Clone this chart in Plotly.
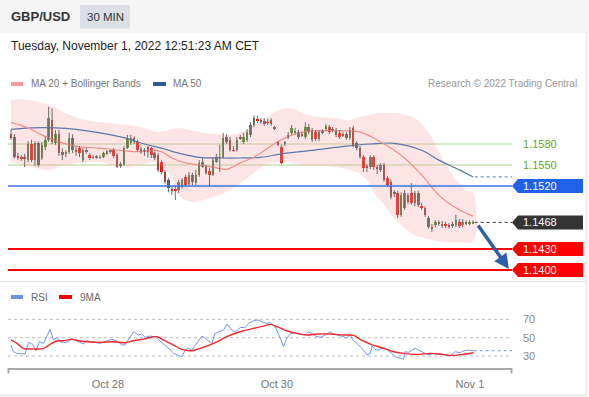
import plotly.graph_objects as go

# ---------------- data ----------------
open_ = [1.1594,1.1590,1.1563,1.1561,1.1561,1.1557,1.1580,1.1557,1.1581,1.1560,
         1.1576,1.1586,1.1614,1.1581,1.1594,1.1569,1.1566,1.1569,1.1589,1.1571,
         1.1574,1.1557,1.1571,1.1564,1.1561,1.1561,1.1561,1.1561,1.1566,1.1569,
         1.1571,1.1564,1.1549,1.1550,1.1574,1.1581,1.1589,1.1583,1.1569,1.1571,
         1.1576,1.1574,1.1567,1.1564,1.1554,1.1540,1.1529,1.1516,1.1516,1.1514,
         1.1519,1.1533,1.1523,1.1536,1.1524,1.1536,1.1547,1.1547,1.1541,1.1536,
         1.1554,1.1561,1.1561,1.1590,1.1586,1.1571,1.1571,1.1589,1.1583,1.1586,
         1.1593,1.1607,1.1614,1.1613,1.1613,1.1611,1.1614,1.1604,1.1583,1.1576,
         1.1581,1.1589,1.1596,1.1597,1.1597,1.1593,1.1590,1.1604,1.1600,1.1597,
         1.1587,1.1597,1.1601,1.1604,1.1600,1.1600,1.1596,1.1593,1.1594,1.1589,
         1.1603,1.1581,1.1574,1.1561,1.1547,1.1547,1.1561,1.1546,1.1543,1.1550,
         1.1531,1.1526,1.1510,1.1510,1.1479,1.1489,1.1507,1.1510,1.1496,1.1510,
         1.1491,1.1489,1.1474,1.1461,1.1464,1.1467,1.1466,1.1464,1.1464,1.1464,
         1.1464,1.1469,1.1464,1.1467,1.1467,1.14675]
close = [1.1589,1.1561,1.1561,1.1560,1.1560,1.1580,1.1557,1.1581,1.1550,1.1579,
         1.1586,1.1617,1.1583,1.1594,1.1567,1.1564,1.1567,1.1589,1.1571,1.1570,
         1.1567,1.1571,1.1570,1.1560,1.15605,1.1563,1.15605,1.1567,1.1570,1.1570,
         1.1563,1.1547,1.1551,1.1574,1.1589,1.1589,1.1583,1.1571,1.1573,1.1570,
         1.1569,1.1564,1.1560,1.1543,1.1540,1.1526,1.1517,1.1514,1.1514,1.1526,
         1.1529,1.1521,1.1536,1.1526,1.1536,1.1553,1.1554,1.1539,1.1536,1.1557,
         1.1561,1.15605,1.1589,1.1583,1.1571,1.15705,1.1586,1.15885,1.1590,1.1597,
         1.1607,1.1617,1.16135,1.16125,1.1609,1.16105,1.1609,1.1601,1.1579,1.1553,
         1.1583,1.1593,1.1603,1.15975,1.1590,1.15925,1.1604,1.1597,1.1586,1.1587,
         1.1597,1.15965,1.1606,1.1597,1.15995,1.1593,1.1590,1.15925,1.1589,1.1600,
         1.1579,1.1574,1.1561,1.1546,1.15465,1.1561,1.1547,1.15455,1.1550,1.1529,
         1.1521,1.1504,1.1509,1.1479,1.1507,1.1510,1.1497,1.1496,1.1510,1.1493,
         1.1490,1.1479,1.1461,1.1460,1.1469,1.14665,1.1464,1.14635,1.1461,1.14635,
         1.1471,1.1463,1.1469,1.14665,1.14675,1.1468]
high = [1.1600,1.1594,1.1567,1.1564,1.1566,1.1584,1.1586,1.1584,1.1584,1.1583,
        1.1591,1.1633,1.1631,1.1600,1.1600,1.1574,1.1571,1.1596,1.1594,1.1576,
        1.1577,1.1574,1.1574,1.1567,1.1564,1.1564,1.1564,1.1569,1.1571,1.1571,
        1.1574,1.1567,1.1554,1.1577,1.1593,1.1593,1.1591,1.1586,1.1576,1.1574,
        1.1577,1.1576,1.1569,1.1567,1.1557,1.1543,1.1531,1.1520,1.1521,1.1529,
        1.1531,1.1536,1.1540,1.1539,1.1543,1.1557,1.1560,1.1550,1.1546,1.1561,
        1.1566,1.1579,1.1596,1.1594,1.1590,1.1577,1.1590,1.1593,1.1596,1.1601,
        1.1611,1.1621,1.1620,1.1617,1.1617,1.1616,1.1617,1.1606,1.1584,1.1579,
        1.1584,1.1597,1.1607,1.1603,1.1600,1.1597,1.1611,1.1609,1.1603,1.1600,
        1.1600,1.1601,1.1609,1.1607,1.1604,1.1603,1.1599,1.1597,1.1597,1.1604,
        1.1606,1.1584,1.1577,1.1564,1.1551,1.1564,1.1564,1.1550,1.1553,1.1553,
        1.1534,1.1529,1.1514,1.1513,1.1511,1.1514,1.1510,1.1524,1.1513,1.1513,
        1.1496,1.1491,1.1477,1.1466,1.1471,1.1471,1.1470,1.1469,1.1467,1.1469,
        1.1479,1.1473,1.1473,1.1471,1.1471,1.1471]
low = [1.1586,1.1559,1.1557,1.1556,1.1547,1.1554,1.1554,1.1549,1.1547,1.1557,
       1.1571,1.1583,1.1580,1.1579,1.1563,1.1557,1.1561,1.1566,1.1567,1.1563,
       1.1561,1.1554,1.1566,1.1557,1.1559,1.1559,1.1559,1.1560,1.1564,1.1566,
       1.1560,1.1546,1.1546,1.1549,1.1573,1.1579,1.1580,1.1569,1.1566,1.1563,
       1.1561,1.1560,1.1557,1.1540,1.1537,1.1523,1.1511,1.1507,1.1500,1.1510,
       1.1516,1.1519,1.1520,1.1521,1.1521,1.1533,1.1546,1.1536,1.1519,1.1534,
       1.1553,1.1540,1.1559,1.1580,1.1569,1.1569,1.1569,1.1586,1.1580,1.1583,
       1.1590,1.1604,1.1610,1.1609,1.1606,1.1607,1.1606,1.1600,1.1577,1.1551,
       1.1577,1.1587,1.1593,1.1594,1.1587,1.1590,1.1587,1.1594,1.1583,1.1584,
       1.1584,1.1594,1.1599,1.1594,1.1597,1.1590,1.1587,1.1590,1.1586,1.1586,
       1.1576,1.1571,1.1559,1.1540,1.1540,1.1544,1.1543,1.1537,1.1540,1.1526,
       1.1519,1.1501,1.1504,1.1474,1.1476,1.1486,1.1494,1.1493,1.1491,1.1490,
       1.1486,1.1476,1.1459,1.1454,1.1461,1.1463,1.1460,1.1460,1.1459,1.1460,
       1.1461,1.1460,1.1461,1.1464,1.1464,1.1466]

ma50_x = [0, 6, 13, 19, 26, 33, 39, 44, 49, 55, 61, 67, 73, 79, 88, 98, 105, 112, 120, 125, 131, 135]
ma50 = [1.1601, 1.1603, 1.1603, 1.1601, 1.1596, 1.1589, 1.1580, 1.1574, 1.1567, 1.1561, 1.1560,
        1.1560, 1.1561, 1.1566, 1.1571, 1.1577, 1.1580, 1.1581, 1.1571, 1.1557, 1.1543, 1.1533]

ma20_x = [0, 5, 9, 14, 20, 26, 32, 38, 41, 44, 47, 51, 55, 59, 63, 67, 71, 75, 79, 85, 93, 102,
          108, 114, 120, 125, 131, 135]
ma20 = [1.1611, 1.1603, 1.1593, 1.1583, 1.1576, 1.1574, 1.1571, 1.1569, 1.1571, 1.1569, 1.1560,
        1.1553, 1.1550, 1.1547, 1.1544, 1.1553, 1.1561, 1.1574, 1.1586, 1.1597, 1.1599, 1.1597,
        1.1583, 1.1564, 1.1536, 1.1507, 1.1486, 1.1477]

bb_up_x = [0, 3, 11, 16, 22, 29, 38, 43, 46, 49, 55, 63, 67, 71, 75, 79, 82, 87, 94, 99, 101,
           104, 107, 113, 118, 122, 125, 129, 133, 135]
bb_up = [1.1643, 1.1644, 1.1636, 1.1624, 1.1614, 1.1610, 1.1604, 1.1597, 1.1600, 1.1603, 1.1597,
         1.1593, 1.1596, 1.1607, 1.1619, 1.1630, 1.1631, 1.1621, 1.1617, 1.1614, 1.1617, 1.1621,
         1.1624, 1.1624, 1.1617, 1.1597, 1.1569, 1.1536, 1.1514, 1.1510]
bb_lo_x = [0, 6, 11, 16, 26, 32, 38, 42, 46, 49, 53, 57, 61, 65, 69, 73, 77, 82, 85, 90, 96,
           101, 104, 106, 109, 112, 115, 118, 123, 127, 131, 135]
bb_lo = [1.1554, 1.1547, 1.1543, 1.1550, 1.1554, 1.1547, 1.1550, 1.1554, 1.1539, 1.1506, 1.1497,
         1.1501, 1.1507, 1.1517, 1.1531, 1.1546, 1.1554, 1.1554, 1.1549, 1.1549, 1.1546, 1.1540,
         1.1529, 1.1511, 1.1493, 1.1474, 1.1460, 1.1450, 1.1443, 1.1440, 1.1440, 1.1441]

rsi_x = [0.0, 0.7, 1.7, 4.1, 5.1, 6.0, 6.5, 7.3, 8.3, 9.5, 10.4, 11.4, 12.4, 13.4, 14.3, 15.8,
         16.8, 17.7, 18.7, 19.7, 21.2, 22.1, 24.1, 26.0, 28.0, 29.4, 30.9, 32.4, 33.3, 34.3,
         35.8, 37.2, 38.2, 39.2, 40.6, 42.1, 43.6, 45.5, 47.5, 49.4, 49.9, 50.9, 51.9, 52.8,
         54.3, 55.8, 56.7, 57.7, 58.7, 59.6, 61.1, 62.1, 63.1, 64.0, 65.0, 66.0, 67.0, 68.4,
         69.4, 70.9, 72.3, 73.8, 74.8, 75.7, 77.2, 78.7, 79.6, 80.6, 81.6, 82.6, 83.5, 84.5,
         86.0, 86.9, 87.9, 88.9, 90.4, 91.8, 93.3, 94.2, 95.7, 97.2, 98.1, 99.1, 100.1, 101.6,
         103.0, 104.0, 105.0, 105.5, 106.4, 107.4, 108.9, 110.3, 111.3, 112.3, 113.7, 114.7,
         115.2, 116.2, 117.2, 118.1, 119.1, 120.6, 122.0, 123.5, 125.4, 126.9, 128.4, 129.8,
         131.3, 132.3, 133.7, 135.2]
rsi = [42.0, 34.7, 32.9, 32.2, 44.5, 43.8, 42.0, 35.8, 45.6, 43.8, 51.1, 59.1, 47.5, 50.4, 45.6,
       44.9, 45.6, 49.3, 47.5, 45.6, 43.1, 46.7, 45.6, 43.8, 46.4, 48.2, 46.7, 42.0, 42.0, 47.5,
       56.5, 52.9, 54.0, 50.4, 51.8, 51.1, 46.7, 40.2, 32.9, 30.0, 29.3, 36.5, 38.4, 36.5, 43.8,
       51.8, 49.3, 46.7, 43.8, 54.7, 56.5, 58.4, 64.9, 61.3, 56.5, 57.3, 61.3, 60.9, 65.6, 68.5,
       69.3, 66.4, 65.6, 66.4, 62.0, 49.3, 40.2, 49.3, 54.0, 55.5, 54.7, 54.0, 52.9, 56.5, 54.7,
       51.8, 50.4, 52.9, 56.5, 54.0, 52.9, 51.1, 49.3, 52.9, 46.7, 42.0, 36.5, 31.1, 32.9, 40.9,
       37.3, 36.5, 39.5, 35.8, 32.9, 29.3, 27.5, 26.4, 34.7, 34.0, 36.5, 38.4, 36.5, 33.6, 31.1,
       32.9, 32.2, 31.1, 30.0, 34.7, 33.6, 35.8, 36.5, 35.8]

ma9_x = [0.0, 1.7, 3.6, 5.6, 7.5, 9.5, 11.4, 13.4, 15.3, 17.7, 20.2, 22.1, 26.0, 29.9, 33.3,
         35.8, 38.7, 42.6, 44.5, 47.5, 49.9, 52.8, 55.3, 59.2, 63.1, 65.0, 67.9, 70.9, 73.8,
         75.7, 77.7, 80.6, 83.5, 86.5, 89.4, 93.3, 97.2, 100.1, 102.0, 105.0, 108.9, 111.8,
         114.7, 118.6, 122.5, 125.4, 128.4, 131.3, 135.2]
ma9 = [47.5, 43.8, 38.4, 37.6, 37.6, 38.4, 42.7, 46.4, 46.7, 48.2, 46.4, 45.6, 44.9, 45.6, 44.5,
       46.7, 48.5, 51.1, 47.5, 42.0, 37.3, 35.8, 38.4, 43.8, 51.1, 54.0, 57.6, 60.2, 62.7, 64.5,
       62.0, 57.6, 54.7, 52.9, 54.0, 54.0, 52.9, 52.5, 48.2, 43.1, 38.4, 34.7, 32.9, 31.8, 32.9,
       32.2, 30.7, 31.5, 33.6]

support_resist = [1.1580, 1.1550]
pivot = 1.1520
last_price = 1.1468
targets = [1.1430, 1.1400]
rsi_levels = [70, 50, 30]

tick_pos = [28.3, 77.7, 134.1]
tick_text = ["Oct 28", "Oct 30", "Nov 1"]

# ---------------- layout helpers (pixel -> paper) ----------------
W, H = 589, 397
L, R, T, B = 8, 77, 95, 29
PW, PH = W - L - R, H - T - B


def px(x):
    return (x - L) / PW


def py(y):
    return (H - B - y) / PH


FONT = "Liberation Sans, Arial, sans-serif"
n = len(close)
idx = list(range(n))
XR = [-0.88, 146.4]

fig = go.Figure()

# Bollinger band fill
fig.add_trace(go.Scatter(
    x=bb_up_x + bb_lo_x[::-1], y=bb_up + bb_lo[::-1], fill="toself",
    fillcolor="rgba(250,175,175,0.32)", line=dict(width=0, shape="spline"),
    mode="lines", hoverinfo="skip", xaxis="x", yaxis="y"))

# MA lines
fig.add_trace(go.Scatter(x=ma50_x, y=ma50, mode="lines",
                         line=dict(color="#5a77ad", width=1.2, shape="spline"),
                         xaxis="x", yaxis="y"))
fig.add_trace(go.Scatter(x=ma20_x, y=ma20, mode="lines",
                         line=dict(color="#f28d88", width=1.2, shape="spline"),
                         xaxis="x", yaxis="y"))

# wicks
wx, wy = [], []
for i in idx:
    wx += [i, i, None]
    wy += [low[i], high[i], None]
fig.add_trace(go.Scatter(x=wx, y=wy, mode="lines", line=dict(color="#6b6b6b", width=1),
                         xaxis="x", yaxis="y"))

# bodies
heights, bases, cols = [], [], []
for o, c in zip(open_, close):
    h = max(abs(c - o), 0.00013)
    mid = (o + c) / 2
    heights.append(h)
    bases.append(mid - h / 2)
    cols.append("#3a8a26" if c > o else "#e3140e")
fig.add_trace(go.Bar(x=idx, y=heights, base=bases, width=0.74,
                     marker=dict(color=cols, line=dict(width=0)),
                     xaxis="x", yaxis="y"))

# RSI
fig.add_trace(go.Scatter(x=rsi_x, y=rsi, mode="lines", line=dict(color="#7896ea", width=1),
                         xaxis="x2", yaxis="y2"))
fig.add_trace(go.Scatter(x=ma9_x, y=ma9, mode="lines",
                         line=dict(color="#f2282b", width=1.4, shape="spline"),
                         xaxis="x2", yaxis="y2"))

shapes = []
ann = []

# header
shapes.append(dict(type="rect", xref="paper", yref="paper", x0=px(0), x1=px(W), y0=py(33),
                   y1=py(0), fillcolor="#f5f5f5", line=dict(width=0), layer="below"))
shapes.append(dict(type="rect", xref="paper", yref="paper", x0=px(80), x1=px(130), y0=py(28.5),
                   y1=py(5), fillcolor="#dcdfe6", line=dict(width=0)))
ann.append(dict(text="<b>GBP/USD</b>", x=px(9), y=py(17), xref="paper", yref="paper",
                xanchor="left", yanchor="middle", showarrow=False,
                font=dict(size=13, color="#333", family=FONT)))
ann.append(dict(text="30 MIN", x=px(105), y=py(17), xref="paper", yref="paper",
                xanchor="center", yanchor="middle", showarrow=False,
                font=dict(size=11.5, color="#333", family=FONT)))
ann.append(dict(text="Tuesday, November 1, 2022 12:51:23 AM CET", x=px(9), y=py(46),
                xref="paper", yref="paper", xanchor="left", yanchor="middle", showarrow=False,
                font=dict(size=12, color="#222", family=FONT)))

# frame lines
shapes.append(dict(type="line", xref="paper", yref="paper", x0=px(0), x1=px(586.5),
                   y0=py(281.5), y1=py(281.5), line=dict(color="#e8e8e8", width=1.5)))
shapes.append(dict(type="line", xref="paper", yref="paper", x0=px(586.5), x1=px(586.5),
                   y0=py(33), y1=py(396), line=dict(color="#e8e8e8", width=1.5)))
shapes.append(dict(type="line", xref="paper", yref="paper", x0=px(0), x1=px(586.5),
                   y0=py(395.5), y1=py(395.5), line=dict(color="#e8e8e8", width=1.5)))

# price legend
shapes.append(dict(type="rect", xref="paper", yref="paper", x0=px(11), x1=px(23), y0=py(86),
                   y1=py(82), fillcolor="#f79a9a", line=dict(width=0)))
ann.append(dict(text="MA 20 + Bollinger Bands", x=px(29), y=py(84), xref="paper", yref="paper",
                xanchor="left", yanchor="middle", showarrow=False,
                font=dict(size=10, color="#777", family=FONT)))
shapes.append(dict(type="rect", xref="paper", yref="paper", x0=px(153), x1=px(166), y0=py(86),
                   y1=py(82), fillcolor="#2f5a98", line=dict(width=0)))
ann.append(dict(text="MA 50", x=px(171), y=py(84), xref="paper", yref="paper",
                xanchor="left", yanchor="middle", showarrow=False,
                font=dict(size=10, color="#777", family=FONT)))
ann.append(dict(text="Research © 2022 Trading Central", x=px(579), y=py(84), xref="paper",
                yref="paper", xanchor="right", yanchor="middle", showarrow=False,
                font=dict(size=10, color="#999", family=FONT)))

# level lines
for lv in support_resist:
    shapes.append(dict(type="line", xref="paper", yref="y", x0=0, x1=1, y0=lv, y1=lv,
                       line=dict(color="#c8e2b4", width=1.5), layer="below"))
    ann.append(dict(text=f"{lv:.4f}", x=px(521), y=lv, xref="paper", yref="y",
                    xanchor="left", yanchor="middle", showarrow=False,
                    font=dict(size=11, color="#5fa81a", family=FONT)))
shapes.append(dict(type="line", xref="paper", yref="y", x0=0, x1=1, y0=pivot, y1=pivot,
                   line=dict(color="#3f76e6", width=1.5)))
for lv in targets:
    shapes.append(dict(type="line", xref="paper", yref="y", x0=0, x1=1, y0=lv, y1=lv,
                       line=dict(color="#ff0000", width=2)))
shapes.append(dict(type="line", xref="x", yref="y", x0=n - 0.5, x1=XR[1], y0=last_price,
                   y1=last_price, line=dict(color="#333", width=1, dash="dot")))
shapes.append(dict(type="line", xref="x", yref="y", x0=ma50_x[-1] + 0.5, x1=XR[1],
                   y0=ma50[-1], y1=ma50[-1], line=dict(color="#5a77ad", width=1, dash="dot")))

# label boxes
hh = 0.00100
tip, body, right = px(512), px(518), px(583)
for lv, col in [(pivot, "#1f62e8"), (last_price, "#333333"),
                (targets[0], "#ff0000"), (targets[1], "#ff0000")]:
    path = (f"M {tip} {lv} L {body} {lv + hh} L {right} {lv + hh} "
            f"L {right} {lv - hh} L {body} {lv - hh} Z")
    shapes.append(dict(type="path", xref="paper", yref="y", path=path, fillcolor=col,
                       line=dict(width=0)))
    ann.append(dict(text=f"{lv:.4f}", x=px(521), y=lv, xref="paper", yref="y",
                    xanchor="left", yanchor="middle", showarrow=False,
                    font=dict(size=11, color="white", family=FONT)))

# arrow
ann.append(dict(text="", x=145.5, y=1.14014, ax=136.2, ay=1.14657, xref="x", yref="y",
                axref="x", ayref="y", showarrow=True, arrowhead=2, arrowsize=0.85,
                arrowwidth=3.5, arrowcolor="#2e5ea6", standoff=0))

# RSI panel
for lv in rsi_levels:
    shapes.append(dict(type="line", xref="paper", yref="y2", x0=0, x1=1, y0=lv, y1=lv,
                       line=dict(color="#bdbdbd", width=1, dash="dot"), layer="below"))
    ann.append(dict(text=str(lv), x=px(521), y=lv, xref="paper", yref="y2",
                    xanchor="left", yanchor="middle", showarrow=False,
                    font=dict(size=11, color="#888", family=FONT)))
shapes.append(dict(type="line", xref="x2", yref="y2", x0=rsi_x[-1], x1=XR[1], y0=rsi[-1],
                   y1=rsi[-1], line=dict(color="#7896ea", width=1, dash="dot")))
shapes.append(dict(type="rect", xref="paper", yref="paper", x0=px(11), x1=px(23), y0=py(299),
                   y1=py(295), fillcolor="#6d8fe8", line=dict(width=0)))
ann.append(dict(text="RSI", x=px(29), y=py(297), xref="paper", yref="paper",
                xanchor="left", yanchor="middle", showarrow=False,
                font=dict(size=10, color="#666", family=FONT)))
shapes.append(dict(type="rect", xref="paper", yref="paper", x0=px(59), x1=px(72), y0=py(299),
                   y1=py(295), fillcolor="#ff0000", line=dict(width=0)))
ann.append(dict(text="9MA", x=px(78), y=py(297), xref="paper", yref="paper",
                xanchor="left", yanchor="middle", showarrow=False,
                font=dict(size=10, color="#666", family=FONT)))

# bottom axis end ticks
for xx in (8.5, 511.5):
    shapes.append(dict(type="line", xref="paper", yref="paper", x0=px(xx), x1=px(xx),
                       y0=py(368), y1=py(373.5), line=dict(color="#aaaaaa", width=2)))

fig.update_layout(
    width=W, height=H, autosize=False,
    margin=dict(l=L, r=R, t=T, b=B, pad=0),
    paper_bgcolor="white", plot_bgcolor="white",
    showlegend=False, bargap=0,
    shapes=shapes, annotations=ann,
    font=dict(family=FONT),
    xaxis=dict(domain=[0, 1], range=XR, anchor="y", visible=False, fixedrange=True,
               automargin=False),
    yaxis=dict(domain=[py(280), 1], range=[1.1580 - (280 - 144) / 7000, 1.1580 + (144 - 95) / 7000],
               anchor="x", visible=False, automargin=False),
    xaxis2=dict(domain=[0, 1], range=XR, anchor="y2", showgrid=False, zeroline=False,
                showline=True, linecolor="#aaaaaa", linewidth=2, automargin=False,
                tickvals=tick_pos, ticktext=tick_text, ticks="outside", ticklen=5,
                tickcolor="rgba(0,0,0,0)", tickfont=dict(size=11, color="#777", family=FONT)),
    yaxis2=dict(domain=[0, py(305)], range=[50 - (368 - 337.7) / 0.9167, 50 + (337.7 - 305) / 0.9167],
                anchor="x2", visible=False, automargin=False),
)

fig.write_html("out.html", config={"displayModeBar": False},
               post_script="document.body.style.margin='0px';document.body.style.overflow='hidden';")
